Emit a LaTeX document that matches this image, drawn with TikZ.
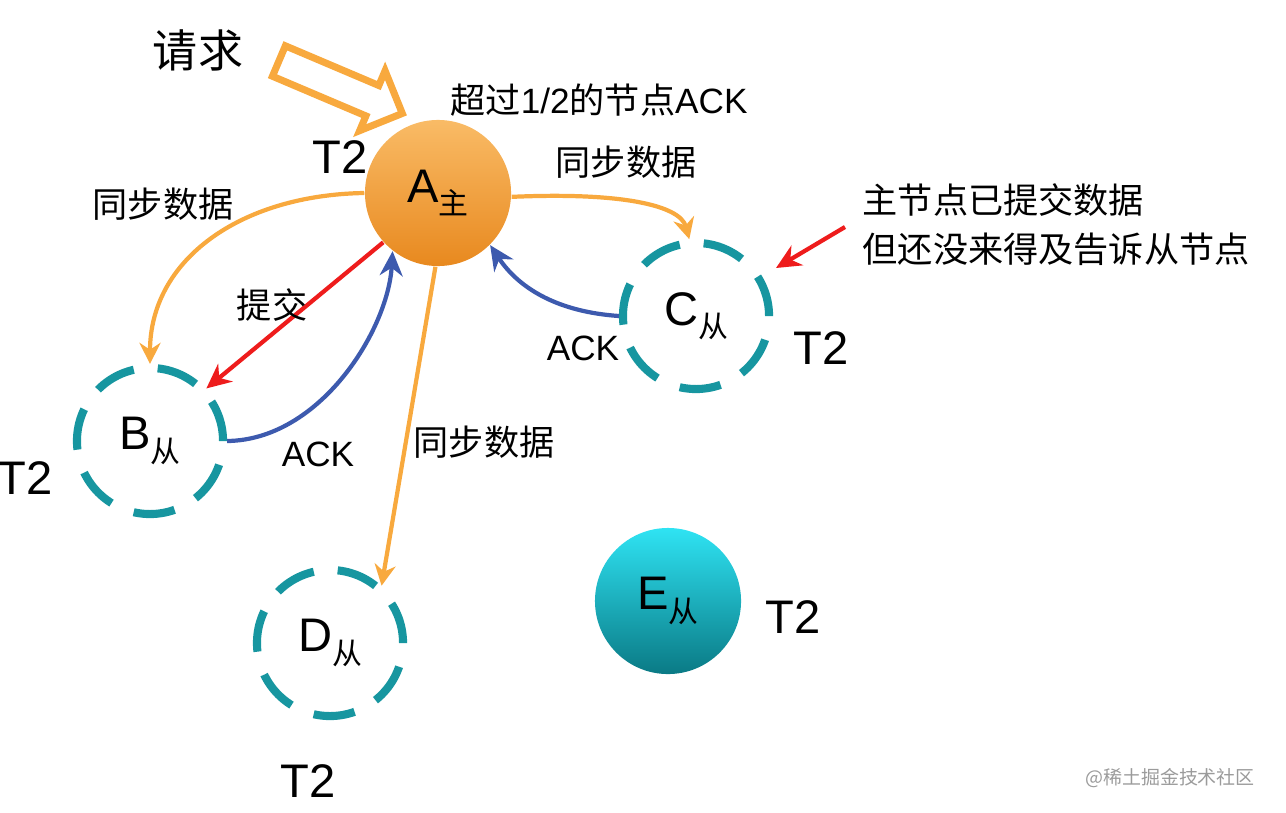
\documentclass[tikz,border=0pt]{standalone}
\usepackage{fontspec}
\setmainfont{Liberation Sans}
\newfontfamily\cjk{Noto Sans CJK SC}
\usepackage{tikz}
\usetikzlibrary{arrows.meta,shapes.arrows}
\definecolor{sync}{HTML}{F8A93E}
\definecolor{commit}{HTML}{EE1C1C}
\definecolor{ack}{HTML}{3D5AAE}
\definecolor{ring}{HTML}{1796A0}
\definecolor{mtop}{HTML}{F9BB66}
\definecolor{mbot}{HTML}{E8891F}
\definecolor{etop}{HTML}{2FE3F3}
\definecolor{ebot}{HTML}{0A7A85}
\definecolor{muted}{HTML}{9B9B9B}
\tikzset{
  syncline/.style={draw=sync, line width=1.2pt, -{Stealth[length=6pt,width=6pt]}},
  commitline/.style={draw=commit, line width=1.2pt, -{Stealth[length=7pt,width=6.5pt]}},
  ackline/.style={draw=ack, line width=1.2pt, -{Stealth[length=7pt,width=6.5pt]}},
  master/.style={circle, minimum size=1.46cm, inner sep=0pt, top color=mtop, bottom color=mbot},
  follower/.style={circle, minimum size=1.46cm, inner sep=0pt, draw=ring, line width=2.3pt, dash pattern=on 11.8pt off 6.84pt},
  idle/.style={circle, minimum size=1.46cm, inner sep=0pt, top color=etop, bottom color=ebot},
  lab/.style={font=\fontsize{10}{12}\selectfont\cjk},
  tlab/.style={font=\fontsize{13.4}{16}\selectfont},
}
\newcommand{\nodesub}[1]{\raisebox{-3.5pt}{\fontsize{8.5}{9}\selectfont\cjk #1}}

\begin{document}
\begin{tikzpicture}[x=0.01cm, y=-0.01cm]
  \useasboundingbox (0,0) rectangle (1286,812);

  % nodes
  \node[master, tlab] (A) at (438,193) {A\nodesub{主}};
  \node[follower, tlab] (B) at (150,441) {B\nodesub{从}};
  \node[follower, tlab] (C) at (696,316) {C\nodesub{从}};
  \node[follower, tlab] (D) at (330,643) {D\nodesub{从}};
  \node[idle, tlab] (E) at (668,601) {E\nodesub{从}};

  % request
  \node[single arrow, draw=sync, fill=white, line width=2pt, rotate=-23,
        minimum height=1.34cm, minimum width=0.58cm, inner sep=0.13cm,
        single arrow head extend=0.16cm] (req) at (333,84) {};
  \node[font=\fontsize{12.8}{14}\selectfont\cjk] (reqlab) at (198,50) {请求};
  \node[lab] (quorum) at (599,100) {超过\fontspec{Liberation Sans}1/2\cjk 的节点\fontspec{Liberation Sans}ACK};

  % sync
  \draw[syncline] (A.357) .. controls (620,192) and (680,205) .. (C.95);
  \draw[syncline] (A.180) .. controls (240,195) and (150,260) .. (B.90);
  \draw[syncline] (A.268) -- (D.48);
  \node[lab] (syncC) at (626,162) {同步数据};
  \node[lab] (syncB) at (163,204) {同步数据};
  \node[lab] (syncD) at (484,442) {同步数据};

  % commit and ack
  \draw[commitline] (A.222) -- (B.43);
  \draw[ackline] (B.0) .. controls (320,440) and (388,330) .. (A.232);
  \draw[ackline] (C.180) .. controls (560,312) and (520,290) .. (A.315);
  \node[lab] (commitlab) at (272,305) {提交};
  \node[lab, font=\fontsize{10}{12}\selectfont] (ackC) at (583,348) {ACK};
  \node[lab, font=\fontsize{10}{12}\selectfont] (ackB) at (318,454) {ACK};

  % note on C
  \node[lab, align=left, inner sep=0pt, anchor=west] (note) at (862,225)
    {主节点已提交数据\\[2pt]但还没来得及告诉从节点};
  \coordinate (notetip) at (776,268);
  \draw[commitline] ([xshift=-0.17cm,yshift=-0.02cm]note.west) -- (notetip);

  % terms
  \node[tlab] (tA) at (340,157) {T2};
  \node[tlab] (tB) at (25,478) {T2};
  \node[tlab] (tC) at (821,348) {T2};
  \node[tlab] (tD) at (308,781) {T2};
  \node[tlab] (tE) at (793,617) {T2};

  \node[text=muted, font=\fontsize{5.4}{6}\selectfont\cjk] (mark) at (1170,778) {@稀土掘金技术社区};
\end{tikzpicture}
\end{document}
